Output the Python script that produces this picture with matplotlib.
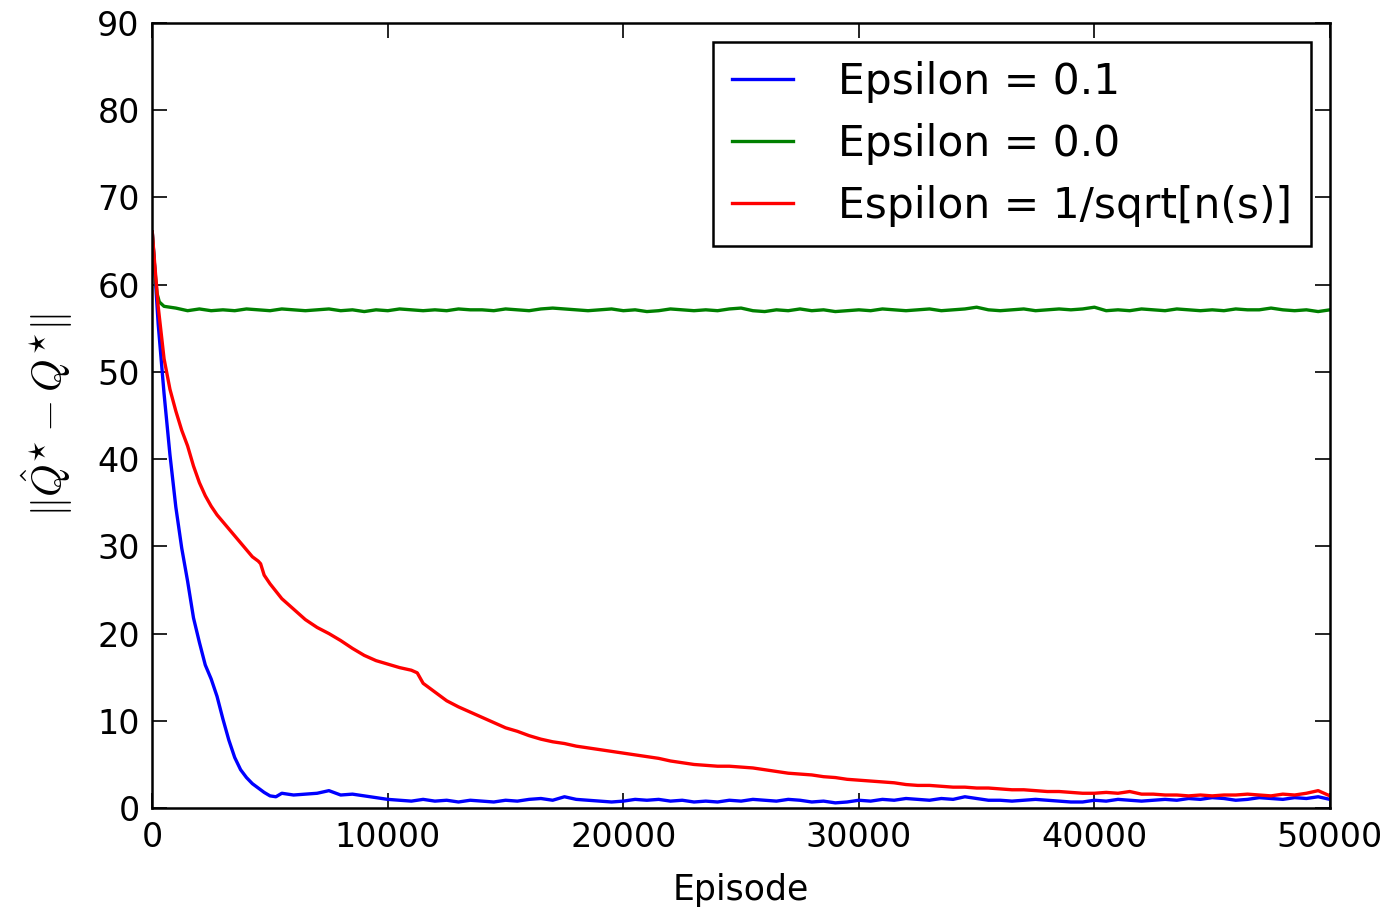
import matplotlib
matplotlib.use("Agg")
from matplotlib import pyplot as plt

# episodes sampled finely at the start, every 500 afterwards
head = [0, 100, 250, 500, 750, 1000, 1250, 1500, 1750, 2000, 2250, 2500, 2750,
        3000, 3250, 3500, 3750, 4000, 4250, 4500, 4750, 5000]

blue_ep = head + [5250] + list(range(5500, 50001, 500))
blue_val = [66, 62, 55.5, 47.5, 40.5, 34.5, 29.8, 26, 21.8, 19, 16.4, 14.8, 12.8,
            10.2, 7.8, 5.8, 4.4, 3.5, 2.8, 2.3, 1.8, 1.4, 1.3,
            1.7, 1.5, 1.6, 1.7, 2.0, 1.5, 1.6, 1.4, 1.2, 1.0,
            0.9, 0.8, 1.0, 0.8, 0.9, 0.7, 0.9, 0.8, 0.7, 0.9,
            0.8, 1.0, 1.1, 0.9, 1.3, 1.0, 0.9, 0.8, 0.7, 0.8,
            1.0, 0.9, 1.0, 0.8, 0.9, 0.7, 0.8, 0.7, 0.9, 0.8,
            1.0, 0.9, 0.8, 1.0, 0.9, 0.7, 0.8, 0.6, 0.7, 0.9,
            0.8, 1.0, 0.9, 1.1, 1.0, 0.9, 1.1, 1.0, 1.3, 1.1,
            0.9, 0.9, 0.8, 0.9, 1.0, 0.9, 0.8, 0.7, 0.7, 0.9,
            0.8, 1.0, 0.9, 0.8, 0.9, 1.0, 0.9, 1.1, 1.0, 1.2,
            1.1, 0.9, 1.0, 1.2, 1.1, 1.0, 1.2, 1.1, 1.3, 1.0]

green_ep = [0, 100, 200, 300, 500, 750, 1000] + list(range(1500, 50001, 500))
green_val = [66, 62, 59, 58, 57.5, 57.4, 57.3,
             57.0, 57.2, 57.0, 57.1, 57.0, 57.2, 57.1, 57.0,
             57.2, 57.1, 57.0, 57.1, 57.2, 57.0, 57.1, 56.9, 57.1, 57.0,
             57.2, 57.1, 57.0, 57.1, 57.0, 57.2, 57.1, 57.1, 57.0, 57.2,
             57.1, 57.0, 57.2, 57.3, 57.2, 57.1, 57.0, 57.1, 57.2, 57.0,
             57.1, 56.9, 57.0, 57.2, 57.1, 57.0, 57.1, 57.0, 57.2, 57.3,
             57.0, 56.9, 57.1, 57.0, 57.2, 57.0, 57.1, 56.9, 57.0, 57.1,
             57.0, 57.2, 57.1, 57.0, 57.1, 57.2, 57.0, 57.1, 57.2, 57.4,
             57.1, 57.0, 57.1, 57.2, 57.0, 57.1, 57.2, 57.1, 57.2, 57.4,
             57.0, 57.1, 57.0, 57.2, 57.1, 57.0, 57.2, 57.1, 57.0, 57.1,
             57.0, 57.2, 57.1, 57.1, 57.3, 57.1, 57.0, 57.1, 56.9, 57.1]

red_ep = head[:20] + [4600, 4750, 5000] + list(range(5500, 11001, 500)) + [11250] \
    + list(range(11500, 50001, 500))
red_val = [66, 62.5, 57.5, 51.5, 48, 45.5, 43.3, 41.5, 39.2, 37.3, 35.8, 34.6, 33.6,
           32.8, 32.0, 31.2, 30.4, 29.6, 28.8, 28.3, 28.0, 26.7, 25.7,
           24.0, 22.8, 21.6, 20.7, 20.0, 19.2, 18.3, 17.5, 16.9, 16.5, 16.1, 15.8, 15.5,
           14.3, 13.3, 12.3, 11.6, 11.0, 10.4, 9.8, 9.2,
           8.8, 8.3, 7.9, 7.6, 7.4, 7.1, 6.9, 6.7, 6.5, 6.3,
           6.1, 5.9, 5.7, 5.4, 5.2, 5.0, 4.9, 4.8, 4.8, 4.7,
           4.6, 4.4, 4.2, 4.0, 3.9, 3.8, 3.6, 3.5, 3.3, 3.2,
           3.1, 3.0, 2.9, 2.7, 2.6, 2.6, 2.5, 2.4, 2.4, 2.3,
           2.3, 2.2, 2.1, 2.1, 2.0, 1.9, 1.9, 1.8, 1.7, 1.7,
           1.8, 1.7, 1.9, 1.6, 1.6, 1.5, 1.5, 1.4, 1.5, 1.4,
           1.5, 1.5, 1.6, 1.5, 1.4, 1.6, 1.5, 1.7, 2.0, 1.4]

labels = ["Epsilon = 0.1", "Epsilon = 0.0", "Espilon = 1/sqrt[n(s)]"]
xticks = [0, 10000, 20000, 30000, 40000, 50000]
yticks = [0, 10, 20, 30, 40, 50, 60, 70, 80, 90]

plt.rcParams['mathtext.fontset'] = 'cm'
fig = plt.figure(figsize=(13.97, 9.09), dpi=100)
ax = fig.add_axes([0.109, 0.111, 0.843, 0.864])

ax.plot(blue_ep, blue_val, color='#0000ff', lw=2.4, label=labels[0])
ax.plot(green_ep, green_val, color='#008000', lw=2.4, label=labels[1])
ax.plot(red_ep, red_val, color='#ff0000', lw=2.4, label=labels[2])

ax.set_xlim(0, 50000)
ax.set_ylim(0, 90)
ax.set_xticks(xticks)
ax.set_yticks(yticks)
ax.tick_params(direction='in', length=11, width=1.2, labelsize=24,
               top=True, right=True, pad=9)
for s in ax.spines.values():
    s.set_linewidth(1.8)

ax.set_xlabel("Episode", fontsize=25, labelpad=14)
ax.set_ylabel(r"$\Vert\hat{Q}^{\star}-Q^{\star}\Vert$", fontsize=30, labelpad=16)

leg = ax.legend(loc='upper right', fontsize=30.5, fancybox=False, framealpha=1,
                edgecolor='black', handlelength=1.45, handletextpad=1.05,
                borderaxespad=0.45, borderpad=0.45, labelspacing=0.47)
leg.get_frame().set_linewidth(1.8)

fig.savefig("out.png", dpi=100)
